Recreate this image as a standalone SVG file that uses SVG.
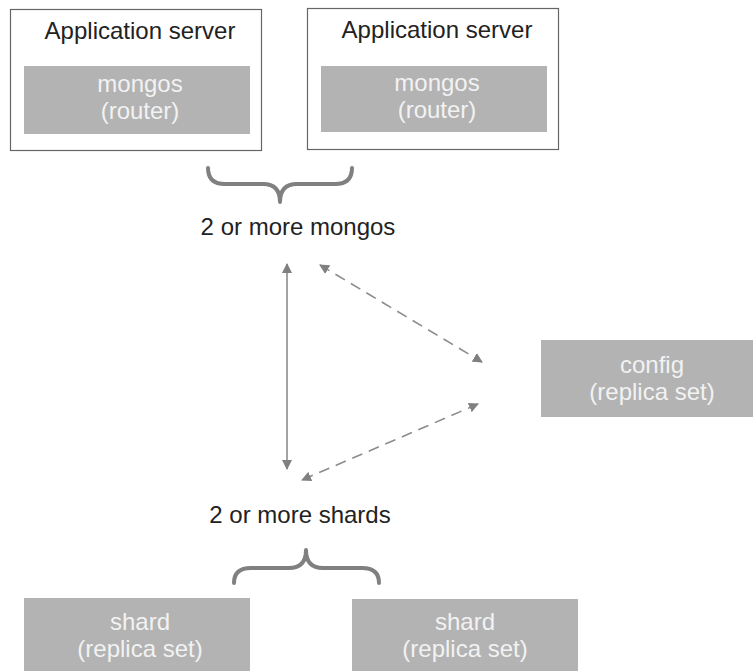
<svg xmlns="http://www.w3.org/2000/svg" width="755" height="671" viewBox="0 0 755 671">
<defs>
<style>
.srv{fill:#fff;stroke:#666;stroke-width:1.2}
.box{fill:#b3b3b3}
.t{font-family:"Liberation Sans",Arial,sans-serif;font-size:24px;text-anchor:middle}
.dark{fill:#222}
.light{fill:#f2f2f2}
.brace{fill:none;stroke:#808080;stroke-width:4;stroke-linecap:round;stroke-linejoin:round}
.arr{fill:none;stroke:#8c8c8c;stroke-width:1.6}
.dash{stroke-dasharray:11 7}
</style>
<marker id="ah" viewBox="0 0 10 10" refX="9" refY="5" markerWidth="10" markerHeight="10" markerUnits="userSpaceOnUse" orient="auto-start-reverse">
<path d="M0,0 L10,5 L0,10 Z" fill="#808080"/>
</marker>
</defs>
<g id="app1">
<rect class="srv" x="10.5" y="9.5" width="251" height="141"/>
<text class="t dark" x="140" y="39">Application server</text>
<rect class="box" x="24" y="66" width="226" height="68"/>
<text class="t light" x="140" y="92">mongos</text>
<text class="t light" x="140" y="119">(router)</text>
</g>
<g id="app2">
<rect class="srv" x="307.5" y="8.5" width="251" height="141"/>
<text class="t dark" x="437" y="38">Application server</text>
<rect class="box" x="321" y="66" width="226" height="66"/>
<text class="t light" x="437" y="91">mongos</text>
<text class="t light" x="437" y="118">(router)</text>
</g>
<g id="mongos-label">
<path class="brace" d="M208,168 Q208,184 225,184 L263,184 Q280,184 280,202 Q280,184 297,184 L335,184 Q352,184 352,168"/>
<text class="t dark" x="298" y="235">2 or more mongos</text>
</g>
<g id="config">
<rect class="box" x="541" y="340" width="212" height="77"/>
<text class="t light" x="652" y="373">config</text>
<text class="t light" x="652" y="400">(replica set)</text>
</g>
<g id="shards-label">
<text class="t dark" x="300" y="523">2 or more shards</text>
<path class="brace" d="M234,583 Q234,568 251,568 L289,568 Q306,568 306,550 Q306,568 323,568 L362,568 Q379,568 379,583"/>
</g>
<g id="shard1">
<rect class="box" x="24" y="598" width="226" height="73"/>
<text class="t light" x="140" y="630">shard</text>
<text class="t light" x="140" y="657">(replica set)</text>
</g>
<g id="shard2">
<rect class="box" x="352" y="599" width="226" height="72"/>
<text class="t light" x="465" y="630">shard</text>
<text class="t light" x="465" y="657">(replica set)</text>
</g>
<g id="connectors">
<line class="arr" x1="287" y1="264" x2="287" y2="469" marker-start="url(#ah)" marker-end="url(#ah)"/>
<line class="arr dash" x1="320" y1="265" x2="482" y2="362" marker-start="url(#ah)" marker-end="url(#ah)"/>
<line class="arr dash" x1="478" y1="404" x2="302" y2="480" marker-start="url(#ah)" marker-end="url(#ah)"/>
</g>
</svg>
